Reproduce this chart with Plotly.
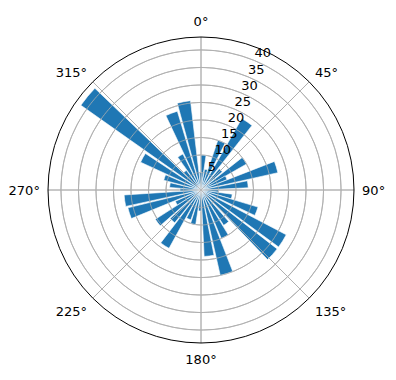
import plotly.graph_objects as go

theta_deg = [4, 14, 23, 34, 45, 56, 64, 73, 83,
             93, 102, 111, 122, 132, 143, 153, 163, 173,
             183, 193, 203, 213, 223, 233, 242, 252, 262,
             271, 279, 289, 299, 309.5, 319, 329, 339, 349, 359]
radii = [10, 6, 15, 23.5, 8, 15, 8, 22.5, 13.5,
         5, 9, 17, 27.5, 27.5, 12, 15, 25, 19,
         6, 10, 9, 19, 12, 15.5, 8, 21.5, 22,
         6, 9, 11, 19, 42, 7, 11.5, 23.5, 25.7, 5]
bar_width_deg = 8.6

r_max = 43.7
r_ticks = [5, 10, 15, 20, 25, 30, 35, 40]
r_label_angle = 22.5
theta_ticks = [0, 45, 90, 135, 180, 225, 270, 315]
theta_labels = [f"{t}°" for t in theta_ticks]

grid_color = "#b0b0b0"
circle_theta = list(range(0, 361, 1))

fig = go.Figure()
fig.add_trace(go.Barpolar(
    r=radii,
    theta=theta_deg,
    width=[bar_width_deg] * len(radii),
    marker=dict(color="#1f77b4", line=dict(color="white", width=0.6)),
    opacity=1,
    hoverinfo="r+theta",
))
# grid drawn above the bars (as in matplotlib)
for rv in r_ticks:
    fig.add_trace(go.Scatterpolar(
        r=[rv] * len(circle_theta), theta=circle_theta, mode="lines",
        line=dict(color=grid_color, width=0.8), hoverinfo="skip",
    ))
for tv in theta_ticks:
    fig.add_trace(go.Scatterpolar(
        r=[0, r_max], theta=[tv, tv], mode="lines",
        line=dict(color=grid_color, width=0.8), hoverinfo="skip",
    ))
# radial tick labels (horizontal, like matplotlib)
fig.add_trace(go.Scatterpolar(
    r=r_ticks,
    theta=[r_label_angle] * len(r_ticks),
    mode="text",
    text=[str(v) for v in r_ticks],
    textposition="top right",
    textfont=dict(size=13, family="DejaVu Sans", color="black"),
    cliponaxis=False,
    hoverinfo="skip",
))

fig.update_layout(
    width=396, height=380, autosize=False,
    margin=dict(l=48, r=42, t=37, b=37),
    paper_bgcolor="white",
    showlegend=False,
    font=dict(family="DejaVu Sans", size=13, color="black"),
    polar=dict(
        bgcolor="white",
        domain=dict(x=[0, 1], y=[0, 1]),
        radialaxis=dict(
            range=[0, r_max],
            tickvals=r_ticks,
            showticklabels=False,
            showline=False,
            ticks="",
            gridcolor=grid_color,
            gridwidth=0.8,
        ),
        angularaxis=dict(
            direction="clockwise",
            rotation=90,
            tickvals=theta_ticks,
            ticktext=theta_labels,
            ticks="outside",
            ticklen=5,
            tickcolor="rgba(0,0,0,0)",
            tickfont=dict(size=13, family="DejaVu Sans", color="black"),
            showline=True,
            linecolor="black",
            linewidth=1,
            gridcolor=grid_color,
            gridwidth=0.8,
        ),
    ),
)

fig.write_html("out.html")
